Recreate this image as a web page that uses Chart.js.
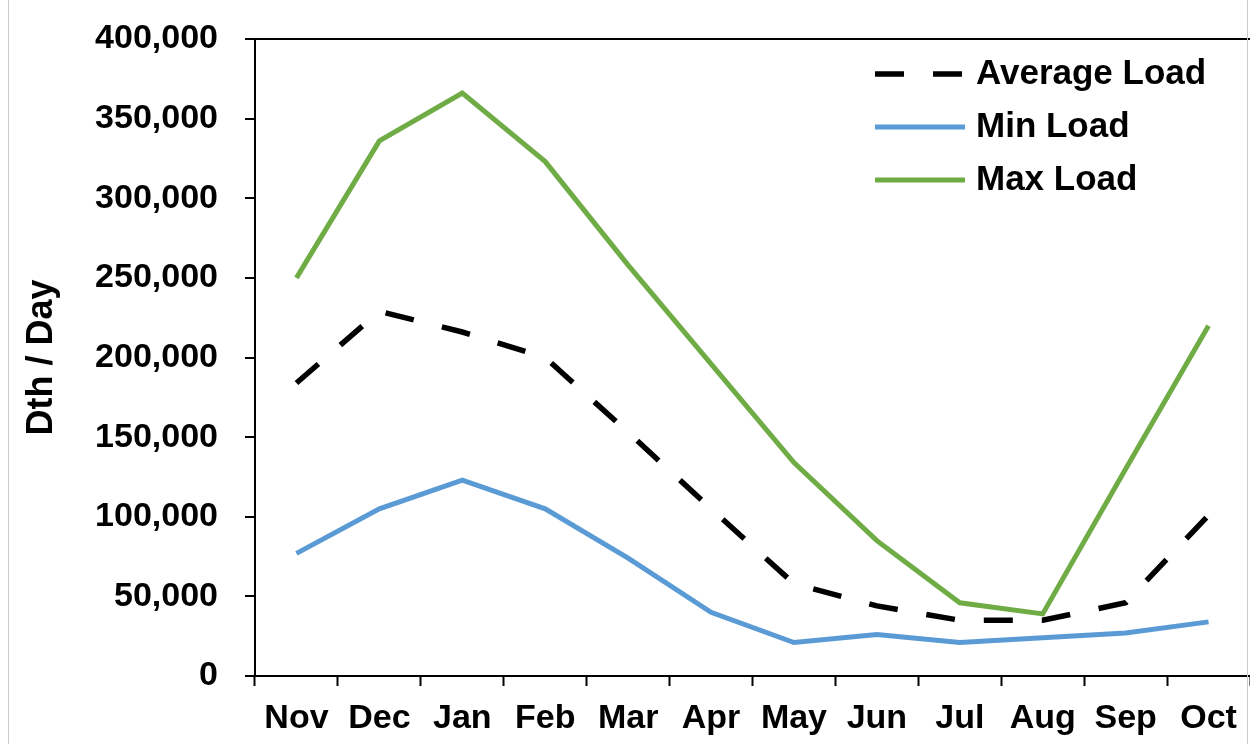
<!DOCTYPE html>
<html>
<head>
<meta charset="utf-8">
<title>Daily Load by Month</title>
<script src="https://cdn.jsdelivr.net/npm/chart.js@4.4.1/dist/chart.umd.min.js"></script>
<style>
  html, body { margin: 0; padding: 0; background: #ffffff; }
  #wrap { position: relative; width: 1250px; height: 744px; overflow: hidden; }
  #frame {
    position: absolute; left: 8px; top: 0; width: 1238px; height: 744px;
    border-left: 1px solid #c9c9c9; border-right: 1px solid #c9c9c9;
    pointer-events: none;
  }
  canvas { display: block; }
</style>
</head>
<body>
<div id="wrap">
  <canvas id="loadChart" width="1250" height="744"></canvas>
  <div id="frame"></div>
</div>
<script>
// Months of the gas year
const months = ['Nov', 'Dec', 'Jan', 'Feb', 'Mar', 'Apr', 'May', 'Jun', 'Jul', 'Aug', 'Sep', 'Oct'];

// Daily load, Dth / Day
const averageLoad = [184000, 229000, 216000, 200000, 153000, 105000, 58000, 44000, 35000, 35000, 46000, 101000];
const minLoad     = [77000, 105000, 123000, 105000, 74000, 40000, 21000, 26000, 21000, 24000, 27000, 34000];
const maxLoad     = [250000, 336000, 366000, 323000, 258000, 196000, 134000, 85000, 46000, 39000, 130000, 220000];

// Value axis
const yMin = 0;
const yMax = 400000;
const yStep = 50000;

const FONT_FAMILY = '"Liberation Sans", Arial, Helvetica, sans-serif';

// Legend drawn inside the plot, in the upper right corner
const insetLegend = {
  id: 'insetLegend',
  afterDraw(chart) {
    const { ctx, chartArea } = chart;
    const sampleLen = 90;
    const x0 = chartArea.right - 375;
    chart.data.datasets.forEach((ds, i) => {
      const y = chartArea.top + 35 + i * 53;
      ctx.save();
      ctx.strokeStyle = ds.borderColor;
      ctx.lineWidth = ds.borderWidth;
      ctx.lineCap = ds.borderCapStyle || 'butt';
      ctx.setLineDash(ds.borderDash || []);
      ctx.beginPath();
      ctx.moveTo(x0, y);
      ctx.lineTo(x0 + sampleLen, y);
      ctx.stroke();
      ctx.setLineDash([]);
      ctx.fillStyle = '#000000';
      ctx.font = 'bold 35px ' + FONT_FAMILY;
      ctx.textAlign = 'left';
      ctx.textBaseline = 'middle';
      ctx.fillText(ds.label, x0 + sampleLen + 11, y);
      ctx.restore();
    });
  }
};

new Chart(document.getElementById('loadChart'), {
  type: 'line',
  data: {
    labels: months,
    datasets: [
      {
        label: 'Average Load',
        data: averageLoad,
        borderColor: '#000000',
        borderWidth: 5.5,
        borderDash: [29, 29],
        borderCapStyle: 'butt',
        pointRadius: 0,
        tension: 0,
        fill: false
      },
      {
        label: 'Min Load',
        data: minLoad,
        borderColor: '#5B9BD5',
        borderWidth: 5,
        pointRadius: 0,
        tension: 0,
        fill: false
      },
      {
        label: 'Max Load',
        data: maxLoad,
        borderColor: '#6FAC45',
        borderWidth: 5,
        pointRadius: 0,
        tension: 0,
        fill: false
      }
    ]
  },
  options: {
    responsive: false,
    animation: false,
    devicePixelRatio: 1,
    layout: { padding: { top: 39, right: 0, bottom: 0, left: 0 } },
    plugins: {
      legend: { display: false },
      tooltip: { enabled: false }
    },
    scales: {
      x: {
        type: 'category',
        offset: true,
        afterFit(scale) { scale.height = 68; },
        border: { display: true, color: '#000000', width: 2 },
        grid: {
          offset: true,
          drawOnChartArea: false,
          drawTicks: true,
          tickLength: 10,
          tickColor: '#000000',
          tickWidth: 2
        },
        ticks: {
          color: '#000000',
          font: { family: FONT_FAMILY, size: 34, weight: 'bold' },
          padding: 12,
          maxRotation: 0,
          autoSkip: false
        }
      },
      y: {
        min: yMin,
        max: yMax,
        afterFit(scale) { scale.width = 255; },
        border: { display: true, color: '#000000', width: 2 },
        grid: {
          drawOnChartArea: true,
          color: (ctx) => (ctx.tick && ctx.tick.value === yMax ? '#000000' : 'rgba(0,0,0,0)'),
          lineWidth: 2,
          drawTicks: true,
          tickLength: 10,
          tickColor: '#000000',
          tickWidth: 2
        },
        ticks: {
          stepSize: yStep,
          color: '#000000',
          font: { family: FONT_FAMILY, size: 34, weight: 'bold', lineHeight: 0.5 },
          padding: 27,
          callback: (v) => Number(v).toLocaleString('en-US')
        },
        title: {
          display: true,
          text: 'Dth / Day',
          color: '#000000',
          font: { family: FONT_FAMILY, size: 36, weight: 'bold' },
          padding: { top: 20, bottom: 0 }
        }
      }
    }
  },
  plugins: [insetLegend]
});
</script>
</body>
</html>
